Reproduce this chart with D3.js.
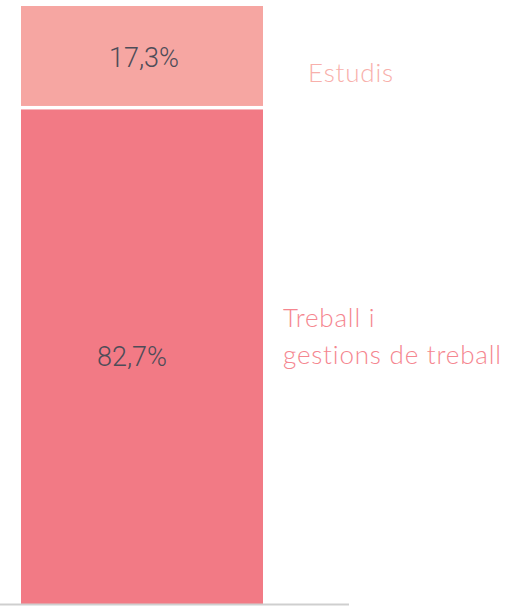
<!DOCTYPE html>
<html><head><meta charset="utf-8">
<script src="https://cdn.jsdelivr.net/npm/d3@7"></script>
<style>body{margin:0;background:#fff}svg{display:block}</style>
</head><body>
<svg id="c" width="509" height="606"></svg>
<script>
const categories = ["Treball i gestions de treball", "Estudis"];
const labelLines = [["Treball i", "gestions de treball"], ["Estudis"]];
const values = [82.7, 17.3];
const valueLabels = ["82,7%", "17,3%"];
const colors = ["#F27A85", "#F6A6A2"];
const labelColors = ["#F5868F", "#F8B0AB"];

const svg = d3.select("#c");
const y = d3.scaleLinear().domain([0, 100]).range([604, 6]);
const x = d3.scaleBand().domain(["all"]).range([21, 263]).padding(0);

let cum = 0;
const segs = values.map((v, i) => { const s = {i, y0: cum, y1: cum + v}; cum += v; return s; });

svg.selectAll("rect.seg").data(segs).enter().append("rect")
  .attr("x", x("all")).attr("width", x.bandwidth())
  .attr("y", d => y(d.y1))
  .attr("height", d => y(d.y0) - y(d.y1) - (d.i > 0 ? 3.5 : 0))
  .attr("fill", d => colors[d.i]);

svg.append("line").attr("x1", 0).attr("x2", 349).attr("y1", 604.5).attr("y2", 604.5)
  .attr("stroke", "#cfcfcf").attr("stroke-width", 2);

const dxVal = [-10, 2];
svg.selectAll("text.val").data(segs).enter().append("text")
  .attr("x", d => x("all") + x.bandwidth() / 2 + dxVal[d.i])
  .attr("y", d => (y(d.y0) + y(d.y1)) / 2)
  .attr("dy", "0.36em")
  .attr("text-anchor", "middle")
  .attr("font-family", "Roboto, sans-serif").attr("font-size", 27).attr("font-weight", 300)
  .attr("fill", "#4d4c58")
  .text(d => valueLabels[d.i]);

const lx = [283, 308];
const ly = [327, 82];
segs.forEach(d => {
  const t = svg.append("text").attr("font-family", "Lato, sans-serif").attr("font-size", 26)
    .attr("letter-spacing", 0.8)
    .attr("fill", labelColors[d.i]).attr("font-weight", 300);
  labelLines[d.i].forEach((ln, k) => {
    t.append("tspan").attr("x", lx[d.i]).attr("y", ly[d.i] + k * 37).text(ln);
  });
});
</script>
</body></html>
